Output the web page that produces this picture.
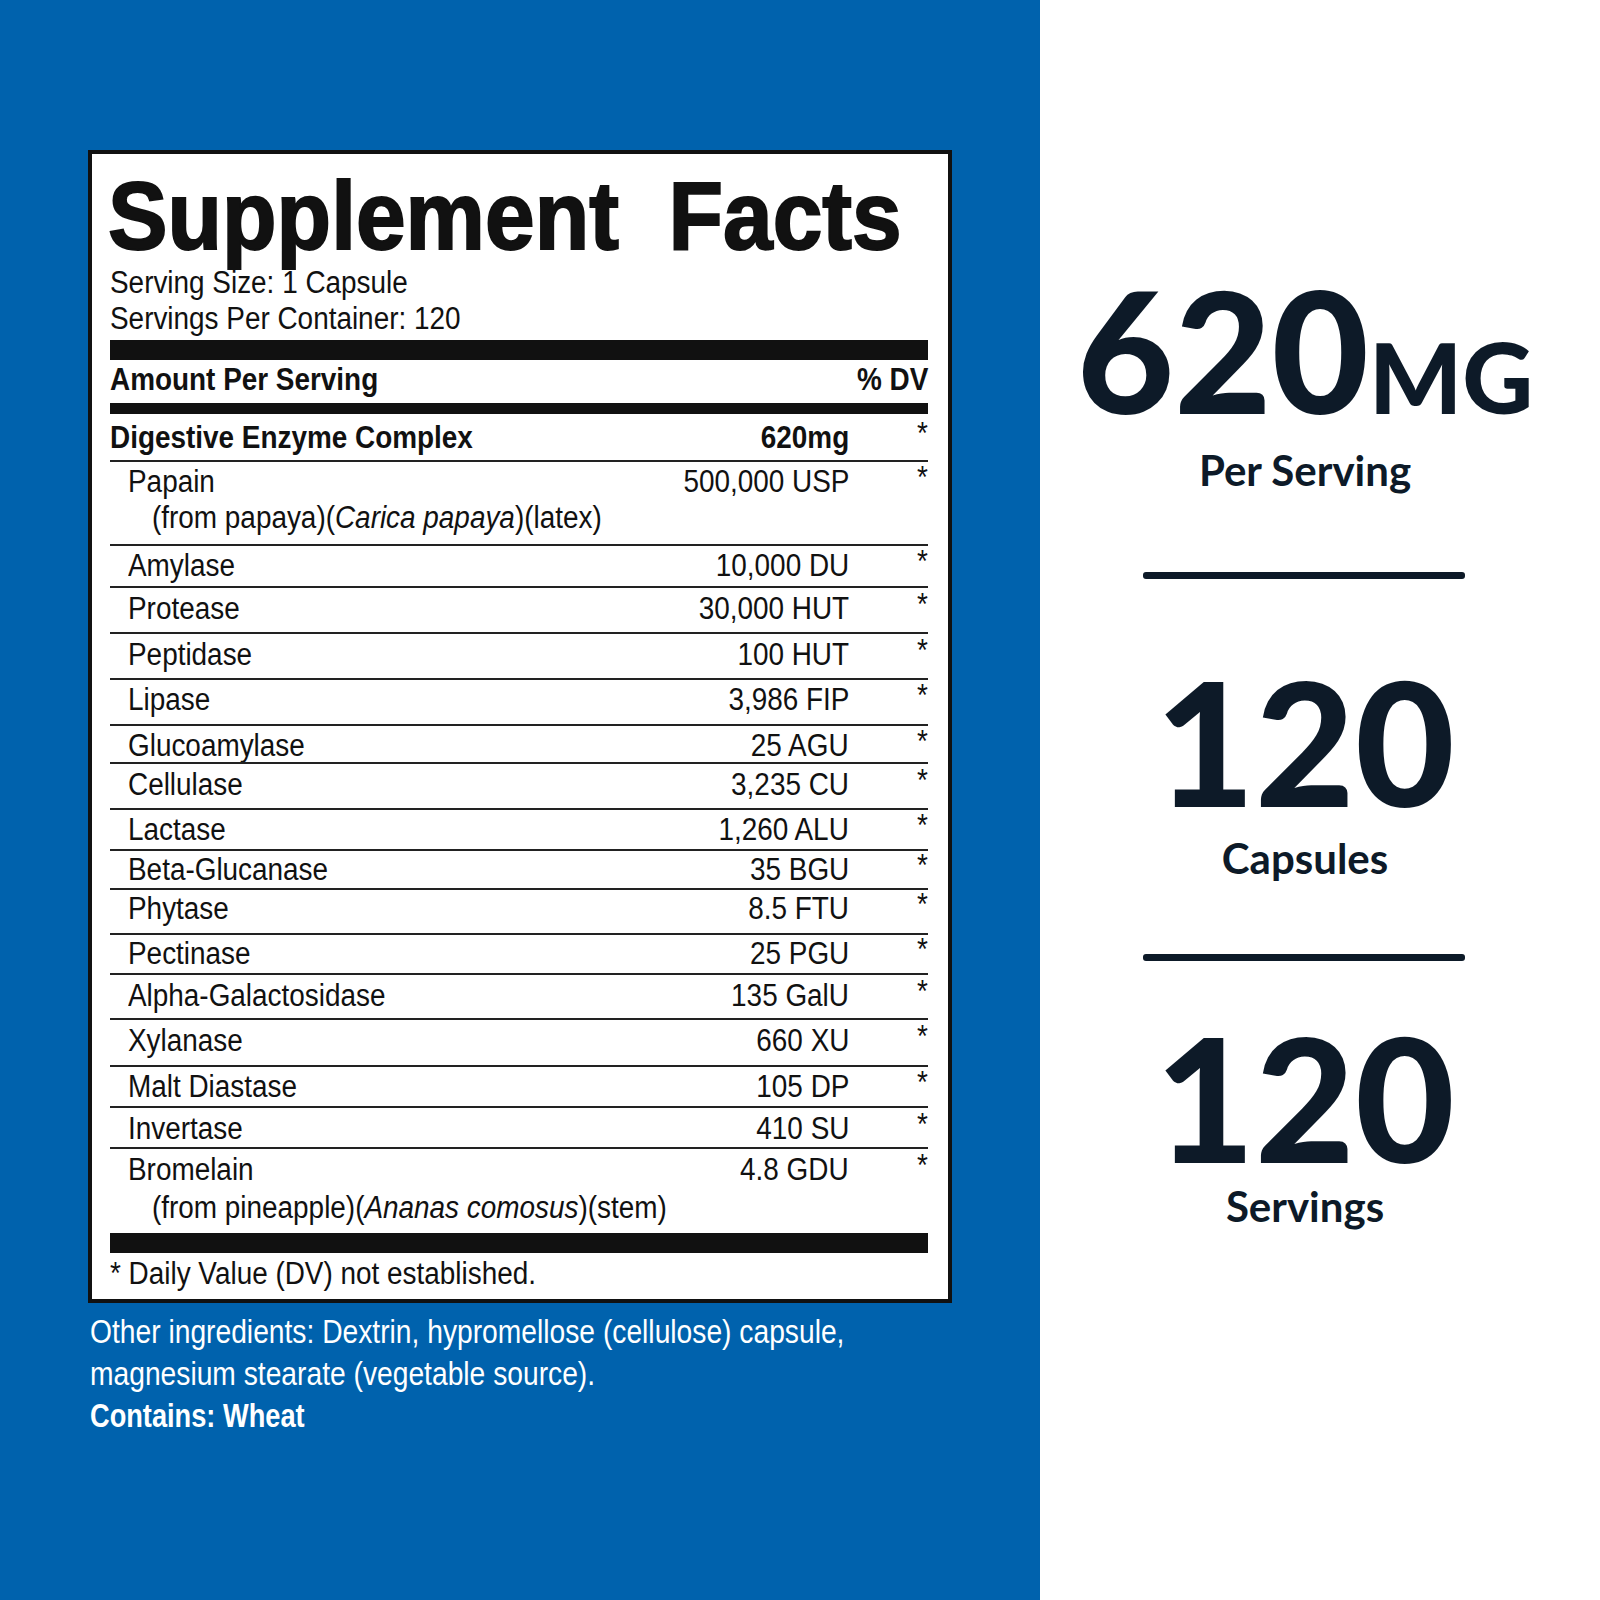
<!DOCTYPE html>
<html><head><meta charset="utf-8">
<script src="https://cdn.jsdelivr.net/npm/chart.js@4.4.0/dist/chart.umd.min.js"></script>
<style>
html,body{margin:0;padding:0;width:1600px;height:1600px;overflow:hidden;background:#fff}
#blue{position:absolute;left:0;top:0;width:1040px;height:1600px;background:#0062ad}
#box{position:absolute;left:88px;top:150px;width:856px;height:1145px;background:#fff;border:4px solid #111}
.t{position:absolute;font-family:"Liberation Sans Narrow","Arial Narrow","Liberation Sans",sans-serif;font-size:31px;color:#111;white-space:nowrap;line-height:1;transform:scaleX(0.9);transform-origin:left center}
.rt{transform-origin:right center}
.b{font-weight:bold}
.bar{position:absolute;left:110px;width:818px;background:#111}
.ln{position:absolute;left:110px;width:818px;height:2px;background:#222}
.r{position:absolute;font-family:Lato,"Open Sans",sans-serif;color:#0d1a28;white-space:nowrap;line-height:0.8;text-align:center;width:460px;left:1075px}
.div{position:absolute;left:1143px;width:322px;height:7px;background:#0d1a28;border-radius:3px}
</style></head><body>
<div id="blue"></div><div id="box"></div>
<div id="c"></div>
<canvas id="chart" width="1" height="1" style="position:absolute;left:0;top:0;width:1px;height:1px"></canvas>
<script>
const names=["Digestive Enzyme Complex","Papain","Amylase","Protease","Peptidase","Lipase","Glucoamylase","Cellulase","Lactase","Beta-Glucanase","Phytase","Pectinase","Alpha-Galactosidase","Xylanase","Malt Diastase","Invertase","Bromelain"];
const amounts=["620mg","500,000 USP","10,000 DU","30,000 HUT","100 HUT","3,986 FIP","25 AGU","3,235 CU","1,260 ALU","35 BGU","8.5 FTU","25 PGU","135  GalU","660 XU","105 DP","410 SU","4.8 GDU"];
const rowY=[438,482,566,609,655,700,746,785,830,870,909,954,996,1041,1087,1129,1170];
const lineY=[460,544,586,632,678,724,762,808,849,888,933,973,1018,1065,1106,1147];
const subs={1:"(from papaya)(<i>Carica papaya</i>)(latex)",16:"(from pineapple)(<i>Ananas comosus</i>)(stem)"};
const subY={1:518,16:1208};
const c=document.getElementById('c');let h='';
const T=(x,y,txt,cls,st)=>h+=`<div class="t ${cls||''}" style="left:${x}px;top:${y-16}px;${st||''}">${txt}</div>`;
h+=`<div class="t b" style="left:108px;top:168px;font-family:'Liberation Sans',sans-serif;font-size:96px;font-weight:900;transform:scaleX(0.93);-webkit-text-stroke:2px #111">Supplement&nbsp; Facts</div>`;
T(110,283,"Serving Size: 1 Capsule");T(110,319,"Servings Per Container: 120");
h+=`<div class="bar" style="top:340px;height:20px"></div>`;
T(110,380,"Amount Per Serving","b");
h+=`<div class="t b rt" style="right:${1600-928}px;top:364px">% DV</div>`;
h+=`<div class="bar" style="top:403px;height:11px"></div>`;
names.forEach((n,i)=>{
  T(i==0?110:128,rowY[i],n,i==0?'b':'');
  h+=`<div class="t rt ${i==0?'b':''}" style="right:${1600-849}px;top:${rowY[i]-16}px">${amounts[i]}</div>`;
  T(917,rowY[i]-4,"*");
  if(subs[i])T(152,subY[i],subs[i]);
});
lineY.forEach(y=>h+=`<div class="ln" style="top:${y}px"></div>`);
h+=`<div class="bar" style="top:1233px;height:20px"></div>`;
T(110,1274,"* Daily Value (DV) not established.");
T(90,1330,"Other ingredients: Dextrin, hypromellose (cellulose) capsule,","","color:#fff;font-size:34px;transform:scaleX(0.83)");
T(90,1372,"magnesium stearate (vegetable source).","","color:#fff;font-size:34px;transform:scaleX(0.83)");
T(90,1414,"Contains: Wheat","b","color:#fff;font-size:34px;transform:scaleX(0.8)");
h+=`<div class="r" style="top:282px;font-size:168px;font-weight:900;left:1060px;width:490px">620<span style="font-size:98px">MG</span></div>`;
h+=`<div class="r" style="top:454px;font-size:42px;font-weight:bold">Per Serving</div>`;
h+=`<div class="div" style="top:572px"></div>`;
h+=`<div class="r" style="top:672px;font-size:172px;font-weight:900">120</div>`;
h+=`<div class="r" style="top:842px;font-size:42px;font-weight:bold">Capsules</div>`;
h+=`<div class="div" style="top:954px"></div>`;
h+=`<div class="r" style="top:1028px;font-size:172px;font-weight:900">120</div>`;
h+=`<div class="r" style="top:1190px;font-size:42px;font-weight:bold">Servings</div>`;
c.innerHTML=h;
</script></body></html>
